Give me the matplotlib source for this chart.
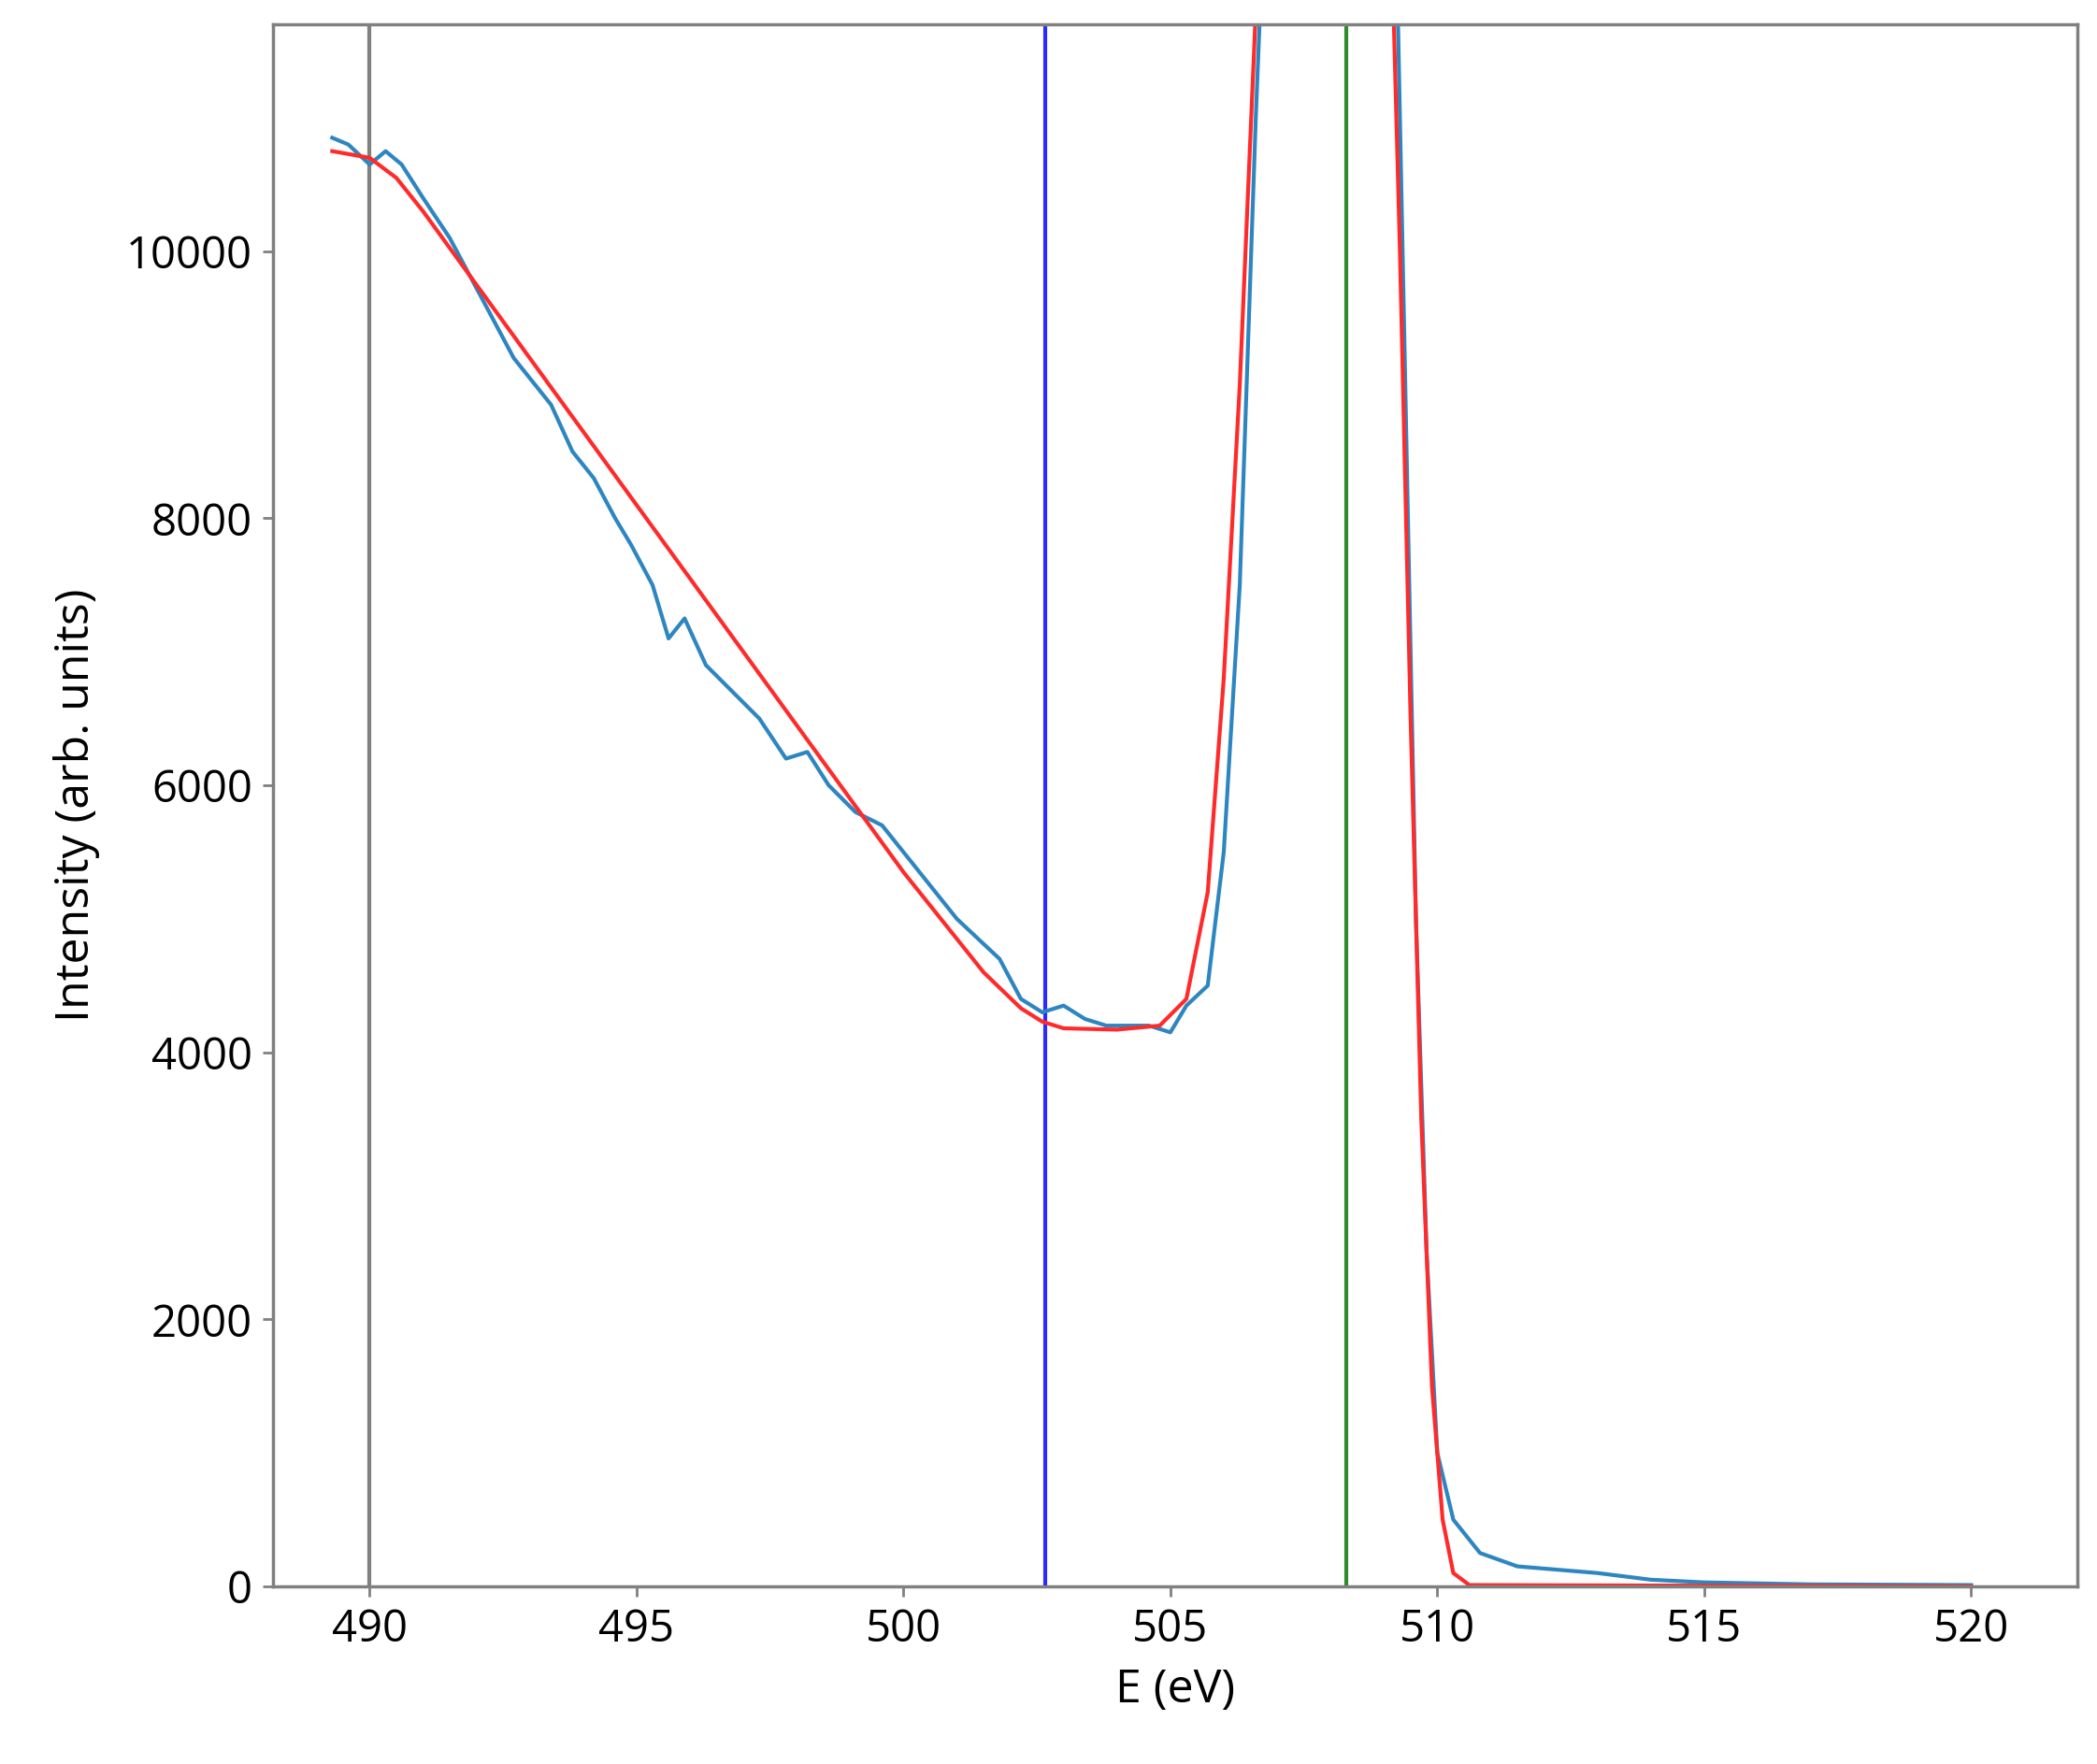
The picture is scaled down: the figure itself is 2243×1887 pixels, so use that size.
import numpy as np
import matplotlib.pyplot as plt

plt.rcParams['font.family'] = ['Open Sans', 'DejaVu Sans']

e_meas = [489.3, 489.6, 490.0, 490.3, 490.6, 491.0, 491.5, 491.9, 492.3, 492.7, 493.1,
          493.4, 493.8, 494.2, 494.6, 494.9, 495.3, 495.6, 495.9, 496.3, 496.8, 497.3,
          497.8, 498.2, 498.6, 499.1, 499.6, 500.1, 500.5, 501.0, 501.4, 501.8, 502.2,
          502.6, 503.0, 503.4, 503.8, 504.2, 504.6, 505.0, 505.3, 505.7, 506.0, 506.3,
          506.6, 506.8]
i_meas = [10850, 10800, 10650, 10750, 10650, 10400, 10100, 9800, 9500, 9200, 9000,
          8850, 8500, 8300, 8000, 7800, 7500, 7100, 7250, 6900, 6700, 6500,
          6200, 6250, 6000, 5800, 5700, 5450, 5250, 5000, 4850, 4700, 4400,
          4300, 4350, 4250, 4200, 4200, 4200, 4150, 4350, 4500, 5500, 7500,
          11000, 13000]
e_meas2 = [509.2, 509.4, 509.6, 509.8, 510.0, 510.3, 510.8, 511.5, 513.0, 514.0, 515.0, 517.0, 520.0]
i_meas2 = [13000, 9000, 5000, 2500, 1000, 500, 250, 150, 100, 50, 30, 15, 10]

# fitted curve
e_fit = [489.3, 490.0, 490.5, 491.0, 492.0, 494.0, 496.0, 498.0, 500.0, 501.5, 502.2,
         502.6, 503.0, 504.0, 504.8, 505.3, 505.7, 506.0, 506.3, 506.6, 506.8]
i_fit = [10750, 10700, 10550, 10300, 9750, 8650, 7550, 6450, 5350, 4600, 4330,
         4230, 4180, 4170, 4200, 4400, 5200, 6800, 9000, 11800, 13000]
e_fit2 = [509.1, 509.3, 509.5, 509.7, 509.9, 510.1, 510.3, 510.6, 520.0]
i_fit2 = [13000, 10000, 6500, 3500, 1500, 500, 100, 10, 0]

vlines = [(490.0, 'gray'), (502.65, '#2b2bff'), (508.3, '#2e8b2e')]

fig = plt.figure(figsize=(22.43, 18.87), dpi=100)
ax = fig.add_axes([292 / 2243, 1 - 1697 / 1887, (2222 - 292) / 2243, (1697 - 26) / 1887])

for x, c in vlines:
    ax.axvline(x, color=c, lw=3)
ax.plot(e_meas, i_meas, color='#2e86c1', lw=3)
ax.plot(e_meas2, i_meas2, color='#2e86c1', lw=3)
ax.plot(e_fit, i_fit, color='#ff2a2a', lw=3)
ax.plot(e_fit2, i_fit2, color='#ff2a2a', lw=3)

ax.set_xlim(488.19, 521.99)
ax.set_ylim(0, 11700)
ax.set_xticks([490, 495, 500, 505, 510, 515, 520])
ax.set_yticks([0, 2000, 4000, 6000, 8000, 10000])
ax.tick_params(labelsize=34, length=8, width=2, color='gray', pad=8)
for s in ax.spines.values():
    s.set_color('gray')
    s.set_linewidth(2.5)
ax.set_xlabel('E (eV)', fontsize=36, labelpad=12)
ax.set_ylabel('Intensity (arb. units)', fontsize=36, labelpad=20)

fig.savefig('out.png', dpi=100)
